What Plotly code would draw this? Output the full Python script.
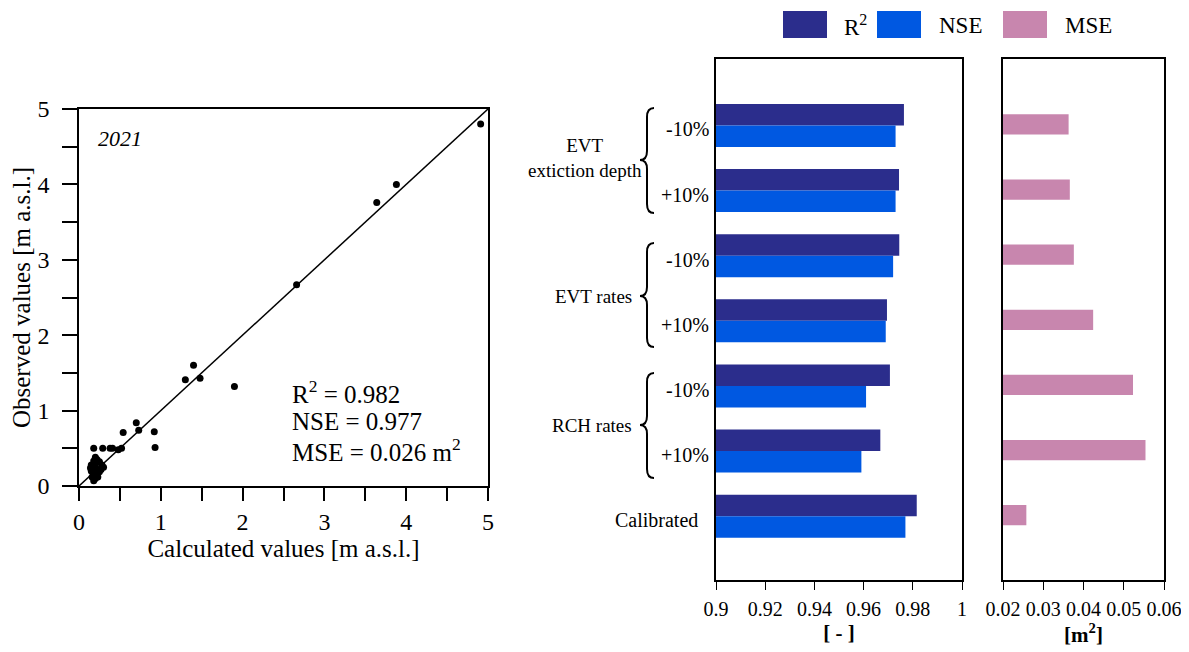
import plotly.graph_objects as go

# ---------------- data ----------------
calc_vals = [4.91, 3.88, 3.64, 2.66, 1.40, 1.30, 1.48, 1.90, 0.70, 0.73, 0.92, 0.93,
             0.54, 0.52, 0.48, 0.38, 0.41, 0.29, 0.18,
             0.20, 0.22, 0.18, 0.25, 0.15, 0.20, 0.28, 0.17, 0.23, 0.30, 0.15,
             0.19, 0.25, 0.16, 0.20, 0.18, 0.23, 0.27, 0.14]
obs_vals = [4.80, 4.00, 3.76, 2.67, 1.60, 1.41, 1.43, 1.32, 0.84, 0.74, 0.72, 0.51,
            0.71, 0.50, 0.48, 0.50, 0.50, 0.50, 0.50,
            0.38, 0.35, 0.33, 0.32, 0.28, 0.27, 0.28, 0.24, 0.22, 0.25, 0.20,
            0.17, 0.19, 0.12, 0.10, 0.07, 0.12, 0.22, 0.24]
one_to_one = [0, 5]

categories = ["EVT depth -10%", "EVT depth +10%", "EVT rates -10%", "EVT rates +10%",
              "RCH rates -10%", "RCH rates +10%", "Calibrated"]
cat_labels = ["-10%", "+10%", "-10%", "+10%", "-10%", "+10%", "Calibrated"]
r2_vals = [0.9764, 0.9744, 0.9745, 0.9695, 0.9707, 0.9668, 0.9816]
nse_vals = [0.9730, 0.9730, 0.9720, 0.9690, 0.9610, 0.9591, 0.9770]
mse_vals = [0.0363, 0.0366, 0.0376, 0.0424, 0.0523, 0.0554, 0.0258]

bar_ticks = [0.9, 0.92, 0.94, 0.96, 0.98, 1.0]
bar_ticktext = ["0.9", "0.92", "0.94", "0.96", "0.98", "1"]
mse_ticks = [0.02, 0.03, 0.04, 0.05, 0.06]
mse_ticktext = ["0.02", "0.03", "0.04", "0.05", "0.06"]
scatter_major = [0, 1, 2, 3, 4, 5]
scatter_minor = [0.5, 1.5, 2.5, 3.5, 4.5]

# ---------------- layout helpers ----------------
PAGE_OFF = 8          # default body margin of the html page
W, H = 1189 - PAGE_OFF, 652 - PAGE_OFF
FONT = "Liberation Serif"
C_R2 = "#2B2D8C"
C_NSE = "#0058E1"
C_MSE = "#C886AE"


def px(x):
    return (x - PAGE_OFF) / W


def py(y):
    return 1 - (y - PAGE_OFF) / H


fig = go.Figure()

# scatter
fig.add_trace(go.Scatter(x=one_to_one, y=one_to_one, mode="lines",
                         line=dict(color="black", width=1.5),
                         xaxis="x", yaxis="y", showlegend=False, hoverinfo="skip"))
fig.add_trace(go.Scatter(x=calc_vals, y=obs_vals, mode="markers",
                         marker=dict(color="black", size=7),
                         cliponaxis=False,
                         xaxis="x", yaxis="y", showlegend=False))

# bars R2 / NSE
fig.add_trace(go.Bar(y=categories, x=r2_vals, orientation="h", name="R²",
                     marker=dict(color=C_R2, line=dict(width=0)),
                     width=0.33, offset=-0.33, base=0,
                     xaxis="x2", yaxis="y2", showlegend=False))
fig.add_trace(go.Bar(y=categories, x=nse_vals, orientation="h", name="NSE",
                     marker=dict(color=C_NSE, line=dict(width=0)),
                     width=0.33, offset=0.0, base=0,
                     xaxis="x2", yaxis="y2", showlegend=False))
# bars MSE
fig.add_trace(go.Bar(y=categories, x=mse_vals, orientation="h", name="MSE",
                     marker=dict(color=C_MSE, line=dict(width=0)),
                     width=0.31, offset=-0.17, base=0,
                     xaxis="x3", yaxis="y3", showlegend=False))

axis_common = dict(showline=True, linecolor="black", linewidth=1.5, mirror=True,
                   showgrid=False, zeroline=False, automargin=False)

fig.update_layout(
    width=W, height=H,
    margin=dict(l=0, r=0, t=0, b=0, autoexpand=False),
    paper_bgcolor="white", plot_bgcolor="white",
    font=dict(family=FONT, color="black", size=20),
    barmode="overlay",
    showlegend=False,
    xaxis=dict(domain=[px(79), px(488)], anchor="y", range=[0, 5],
               tickvals=scatter_major,
               ticks="outside", ticklen=13, tickwidth=1.5, tickcolor="black",
               minor=dict(tickvals=scatter_minor, ticks="outside", ticklen=13,
                          tickwidth=1.5, tickcolor="black"),
               tickfont=dict(size=24), ticklabelstandoff=0,
               title=dict(text="Calculated values [m a.s.l.]", font=dict(size=25), standoff=1),
               **axis_common),
    yaxis=dict(domain=[py(486), py(109)], anchor="x", range=[0, 5],
               tickvals=scatter_major,
               ticks="outside", ticklen=15, tickwidth=1.5, tickcolor="black",
               minor=dict(tickvals=scatter_minor, ticks="outside", ticklen=15,
                          tickwidth=1.5, tickcolor="black"),
               tickfont=dict(size=24), ticklabelstandoff=8,
               title=dict(text="Observed values [m a.s.l.]", font=dict(size=25), standoff=6),
               **axis_common),
    xaxis2=dict(domain=[px(716), px(962)], anchor="y2", range=[0.9, 1.0],
                tickvals=bar_ticks, ticktext=bar_ticktext,
                ticks="outside", ticklen=8, tickwidth=1.2, tickcolor="black",
                tickfont=dict(size=20), ticklabelstandoff=2,
                title=dict(text="<b>[ - ]</b>", font=dict(size=21), standoff=7),
                **axis_common),
    yaxis2=dict(domain=[py(580), py(59)], anchor="x2", type="category",
                categoryorder="array", categoryarray=categories,
                range=[6.98, -1.02], showticklabels=False, ticks="",
                **axis_common),
    xaxis3=dict(domain=[px(1003), px(1164)], anchor="y3", range=[0.02, 0.06],
                tickvals=mse_ticks, ticktext=mse_ticktext,
                ticks="outside", ticklen=8, tickwidth=1.2, tickcolor="black",
                tickfont=dict(size=20), ticklabelstandoff=2,
                title=dict(text="<b>[m<sup>2</sup>]</b>", font=dict(size=21), standoff=5),
                **axis_common),
    yaxis3=dict(domain=[py(580), py(59)], anchor="x3", type="category",
                categoryorder="array", categoryarray=categories,
                range=[6.98, -1.02], showticklabels=False, ticks="",
                **axis_common),
)

ann = []
# scatter annotations
ann.append(dict(text="<i>2021</i>", xref="paper", yref="paper", x=px(96), y=py(139),
                xanchor="left", yanchor="middle", showarrow=False, font=dict(size=22)))
for txt, yy in [("R<sup>2</sup> = 0.982", 392), ("NSE = 0.977", 421),
                ("MSE = 0.026 m<sup>2</sup>", 450)]:
    ann.append(dict(text=txt, xref="paper", yref="paper", x=px(290), y=py(yy),
                    xanchor="left", yanchor="middle", showarrow=False, font=dict(size=25)))

# category labels
for cat, lab in zip(categories, cat_labels):
    xr = 700 if lab == "Calibrated" else 711
    ann.append(dict(text=lab, xref="paper", yref="y2", x=px(xr), y=cat,
                    xanchor="right", yanchor="middle", yshift=-4, showarrow=False,
                    font=dict(size=20)))

# group labels
ann.append(dict(text="EVT<br>extiction depth", xref="paper", yref="paper", x=px(644), y=py(158),
                xanchor="right", yanchor="middle", align="center", showarrow=False,
                font=dict(size=19)))
ann.append(dict(text="EVT rates", xref="paper", yref="paper", x=px(634), y=py(297),
                xanchor="right", yanchor="middle", showarrow=False, font=dict(size=19)))
ann.append(dict(text="RCH rates", xref="paper", yref="paper", x=px(634), y=py(425),
                xanchor="right", yanchor="middle", showarrow=False, font=dict(size=19)))

# legend (manual)
legend_items = [("R<sup>2</sup>", C_R2, 783, 842), ("NSE", C_NSE, 877, 937), ("MSE", C_MSE, 1003, 1063)]
shapes = []
for lab, col, x0, xt in legend_items:
    shapes.append(dict(type="rect", xref="paper", yref="paper",
                       x0=px(x0), x1=px(x0 + 44), y0=py(38), y1=py(11),
                       fillcolor=col, line=dict(width=0)))
    ann.append(dict(text=lab, xref="paper", yref="paper", x=px(xt), y=py(25),
                    xanchor="left", yanchor="middle", showarrow=False, font=dict(size=23)))


# braces
def brace(yt, yb, ym, xr=654, xm=647, xt=640):
    q = 9
    pts = (f"M {px(xr)},{py(yt)} "
           f"Q {px(xm)},{py(yt)} {px(xm)},{py(yt + q)} "
           f"L {px(xm)},{py(ym - q)} "
           f"Q {px(xm)},{py(ym)} {px(xt)},{py(ym)} "
           f"Q {px(xm)},{py(ym)} {px(xm)},{py(ym + q)} "
           f"L {px(xm)},{py(yb - q)} "
           f"Q {px(xm)},{py(yb)} {px(xr)},{py(yb)}")
    return dict(type="path", xref="paper", yref="paper", path=pts,
                line=dict(color="black", width=2))


shapes.append(brace(108, 213, 160))
shapes.append(brace(243, 347, 296))
shapes.append(brace(373, 478, 425))

fig.update_layout(annotations=ann, shapes=shapes)

fig.write_html("out.html")
